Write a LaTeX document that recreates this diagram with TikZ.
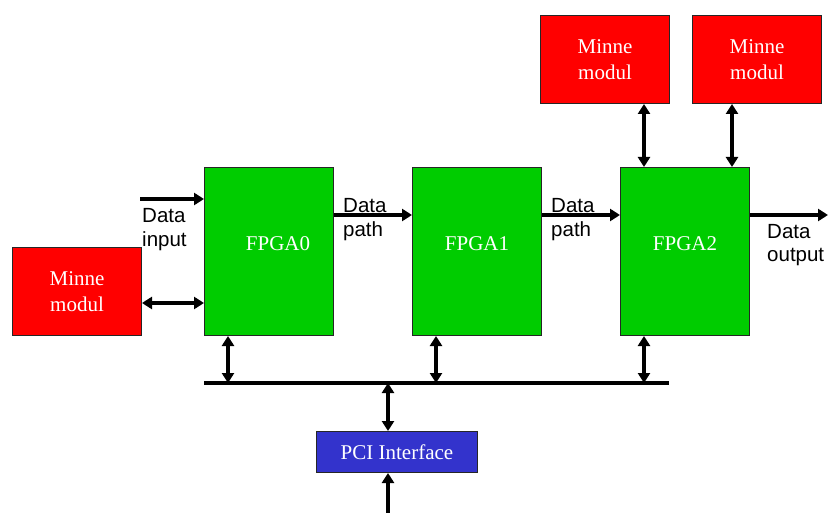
\documentclass[tikz,border=0pt]{standalone}
\usepackage{fontspec}
\setmainfont{Liberation Serif}
\newfontfamily\arialfont{Liberation Sans}
\usetikzlibrary{arrows.meta}
\definecolor{fgreen}{HTML}{00CC00}
\definecolor{mred}{HTML}{FF0000}
\definecolor{pblue}{HTML}{3333CC}
\newcommand{\fpgatext}[1]{\raisebox{1pt}[0pt][0pt]{#1}}
\tikzset{
  blk/.style={draw=black!85, line width=1pt, anchor=north west, inner sep=0pt,
    text=white, font=\fontsize{21}{26}\selectfont, align=center},
  fpga/.style={blk, fill=fgreen, minimum width=129pt, minimum height=168pt},
  mem/.style={blk, fill=mred, minimum width=129pt, minimum height=88pt},
  pcibox/.style={blk, fill=pblue, minimum width=161pt, minimum height=41pt},
  lbl/.style={font=\arialfont\fontsize{20.5}{24}\selectfont, align=left, inner sep=0pt, anchor=base west},
  arr/.style={line width=3.5pt, -{Triangle[length=10pt,width=12pt]}},
  darr/.style={line width=3.5pt, {Triangle[length=10pt,width=12pt]}-{Triangle[length=10pt,width=12pt]}},
  busline/.style={line width=3.5pt}
}
\begin{document}
\begin{tikzpicture}[x=1pt,y=-1pt]
\useasboundingbox (0,0) rectangle (828,513);
% boxes
\node[fpga] (f0) at (204,167) {\fpgatext{\hspace*{18pt}FPGA0}};
\node[fpga] (f1) at (412,167) {\fpgatext{FPGA1}};
\node[fpga] (f2) at (620,167) {\fpgatext{FPGA2}};
\node[mem] (mL) at (12,247) {Minne\\modul};
\node[mem] (m1) at (540,15) {Minne\\modul};
\node[mem] (m2) at (692,15) {Minne\\modul};
\node[pcibox] (pci) at (316,431) {PCI Interface};
% helper coordinates
\coordinate (din) at (140,199);
\coordinate (dp) at (0,215);
\coordinate (dout) at (828,215);
\coordinate (mio) at (0,303);
\coordinate (busL) at (204,383);
\coordinate (busR) at (669,383);
\coordinate (b0) at (228,383);
\coordinate (b1) at (436,383);
\coordinate (b2) at (644,383);
\coordinate (bp) at (388,383);
\coordinate (t1) at (644,0);
\coordinate (t2) at (732,0);
\coordinate (pout) at (388,526);
% connectors
\draw[arr] (din) -- (din -| f0.west);
\draw[darr] (mL.east |- mio) -- (f0.west |- mio);
\draw[arr] (f0.east |- dp) -- (f1.west |- dp);
\draw[arr] (f1.east |- dp) -- (f2.west |- dp);
\draw[arr] (f2.east |- dp) -- (dout);
\draw[darr] (m1.south -| t1) -- (f2.north -| t1);
\draw[darr] (m2.south -| t2) -- (f2.north -| t2);
\draw[busline] (busL) -- (busR);
\draw[darr] (f0.south -| b0) -- (b0);
\draw[darr] (f1.south -| b1) -- (b1);
\draw[darr] (f2.south -| b2) -- (b2);
\draw[darr] (bp) -- (pci.north -| bp);
\draw[darr] (pci.south -| bp) -- (pout);
% labels (base anchor = baseline of last line)
\node[lbl] (lin) at (142,247) {Data\\input};
\node[lbl] (lp0) at (343,237) {Data\\path};
\node[lbl] (lp1) at (551,237) {Data\\path};
\node[lbl] (lout) at (767,262) {Data\\output};
\end{tikzpicture}
\end{document}
